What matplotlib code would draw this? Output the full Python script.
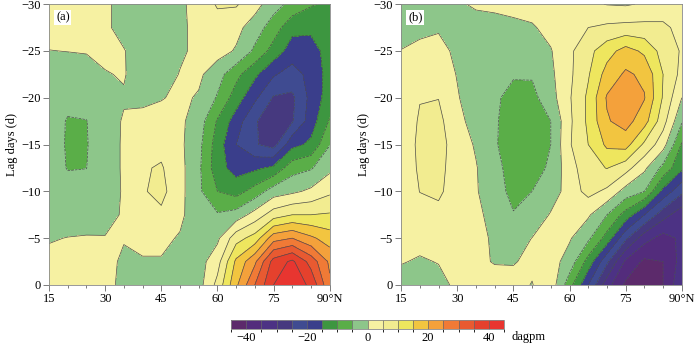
import numpy as np
import matplotlib.pyplot as plt
from matplotlib.colors import ListedColormap, BoundaryNorm
from matplotlib.ticker import MultipleLocator

plt.rcParams['font.family'] = ['Liberation Serif', 'DejaVu Serif']

# grid: latitude (deg N) and lag (days)
lat = [15, 20, 25, 30, 35, 40, 45, 50, 55, 60, 65, 70, 75, 80, 85, 90]
lag = [-30, -27.5, -25, -22.5, -20, -17.5, -15, -12.5, -10, -7.5, -5, -2.5, 0]

# panel (a), one row per lag, dagpm
field_a = [
    [2, 2, 2, 1, -2, -3, -2.5, -1, 2, 5.5, 5.5, 2, -3, -6.5, -9.5, -11],
    [2, 2, 1.5, 1, -2, -3, -2.5, -1, 1.5, 3, 1.5, -2.5, -7.5, -13.5, -14, -12],
    [-0.1, 0.1, 0.3, 1.2, 0.3, -3, -3, -1, 1.5, 2, -0.5, -6, -12, -17.5, -17, -13],
    [-2, -2.5, -2, -0.3, 0.4, -3, -3, 0.3, 1, -3, -8.5, -14, -19.5, -22, -18.5, -13],
    [-2.5, -3.8, -3.5, -2, -0.5, -1.5, -0.3, 1, -0.5, -5.5, -12.5, -19, -25.5, -26, -18.5, -12.5],
    [-3, -5.3, -5.1, -2.5, 0.5, 2, 2, 1, -2.5, -10.5, -17.5, -24.5, -28, -25.5, -17.5, -9.5],
    [-3, -5.4, -5.3, -2, 0.5, 3, 3.5, 1, -3.5, -12.5, -20, -24.5, -27, -16.5, -14, -5.2],
    [-3, -5.2, -5.05, -2, 0.5, 4.5, 5.5, 1.5, -4, -13, -17, -16, -14, -7, -5.5, -1.2],
    [-3, -3.5, -3.5, -2.5, 0.5, 4.5, 6.5, 1.5, -4, -10, -12, -8, -2.5, -1, 1, 4],
    [-2, -2, -2, -1.5, 0.5, 3, 4, 1, -3, -4.5, -3, 2, 7.5, 10, 10, 10.5],
    [-0.3, 0.1, 0.3, 0.2, 0.3, 1, 1, -0.4, -2.5, -1, 8, 12, 23, 25, 21, 17.5],
    [1, 1.5, 1.5, 1.5, -0.8, -0.3, -0.3, -1.5, -2, 3, 16, 24, 37, 41, 33, 24],
    [1, 1.5, 1.5, 1.2, -1, -1.5, -1.5, -2, -2, 6.5, 19, 30, 40, 43, 39, 26],
]

# panel (b)
field_b = [
    [-2, -2.5, -2.5, -1, 1, 1.5, 2, 2, 2, 1.5, 1, -0.2, -0.5, 0.5, 2, 2],
    [-1.5, -1, -0.5, -1.5, -3, -2.5, -1.5, -0.5, 1.5, 3, 5, 6, 6.5, 6.5, 6, 3.5],
    [0.1, 1, 1.5, -1, -3.5, -3.5, -3.5, -2.5, -0.3, 4, 8.5, 13, 17, 14, 8, 4.5],
    [1, 3, 3.5, -0.3, -3.5, -4, -4.7, -4.5, -1, 4, 9.5, 17, 20.8, 19, 10, 3.5],
    [2, 4.8, 4.9, 0.5, -3.5, -4.5, -6, -6.5, -2, 4.5, 11, 20.5, 24, 20.3, 9.5, 0],
    [2, 5.5, 6.3, 1.5, -2, -4.5, -7, -7.5, -5, 4, 11, 19.5, 22, 17, 7, -4.5],
    [2, 6, 7, 2.5, -0.5, -4.5, -7.5, -8, -5, 4.5, 10, 16, 17, 9, 2, -10.5],
    [1.5, 5.8, 6.5, 2.5, 0.3, -3.5, -7, -7.5, -4, 3, 8, 10.2, 7, 1, -6.5, -14],
    [1.2, 5.1, 6, 2.2, 0.5, -3.5, -6, -5, -3, 2.5, 6.5, 4, -2, -5, -16.5, -24],
    [1, 3, 3.5, 2, 1, -1.5, -4.8, -4, 0.5, 2.5, 0.7, -5, -12, -20, -28, -33],
    [1, 1.5, 1.5, 1.5, 1, -0.5, -2.5, 0.1, 1.5, 0.5, -4, -12, -24, -33, -37, -34],
    [0.3, -0.5, 0.2, 1, 1, -0.3, -0.3, 1, 2, -2, -12, -24, -36, -41, -40, -33],
    [-2, -2.5, -1.5, 1, 2, 2, 1.5, -0.2, 3, -8, -20, -33, -41, -43, -40, -31],
]

cbar_ticks = [-40, -20, 0, 20, 40]
xtick_vals = [15, 30, 45, 60, 75, 90]
xtick_labels = ['15', '30', '45', '60', '75', '90°N']
ytick_vals = [-30, -25, -20, -15, -10, -5, 0]

levels = np.arange(-45, 50, 5)
colors = ['#5c2a6b', '#532c7c', '#4c3284', '#46397f', '#3f4b91', '#3a3e8b',
          '#3d9640', '#5aae48', '#8dc68a',
          '#f6f1a2', '#f2ec90', '#eee65e', '#f2c540', '#f4a13b',
          '#f07a36', '#e85a31', '#e5412d', '#e83530']
cmap = ListedColormap(colors)
norm = BoundaryNorm(levels, cmap.N)


def minus(v):
    return f'\u2212{abs(v)}' if v < 0 else str(v)


def draw_panel(ax, field, label):
    z = np.array(field)
    cf = ax.contourf(lat, lag, z, levels=levels, cmap=cmap, norm=norm)
    ax.contour(lat, lag, z, levels=levels, colors='#4d4d4d', linewidths=0.5)
    ax.set_xlim(15, 90)
    ax.set_ylim(0, -30)
    ax.set_xticks(xtick_vals)
    ax.set_xticklabels(xtick_labels)
    ax.xaxis.set_minor_locator(MultipleLocator(5))
    ax.set_yticks(ytick_vals)
    ax.set_yticklabels([minus(v) for v in ytick_vals])
    ax.tick_params(which='major', direction='out', length=4, width=0.6,
                   color='#666666', labelsize=9, pad=2)
    ax.tick_params(which='minor', direction='out', length=2.5, width=0.6,
                   color='#666666')
    for s in ax.spines.values():
        s.set_color('#888888')
        s.set_linewidth(0.6)
    ax.set_ylabel('Lag days (d)', fontsize=9, labelpad=2)
    ax.text(0.025, 0.975, label, transform=ax.transAxes, fontsize=9,
            va='top', ha='left',
            bbox=dict(facecolor='white', edgecolor='none', pad=1.2))
    return cf


fig = plt.figure(figsize=(7, 3.45), dpi=100)
ax1 = fig.add_axes([0.070, 0.174, 0.401, 0.814])
ax2 = fig.add_axes([0.573, 0.174, 0.401, 0.814])
cax = fig.add_axes([0.33, 0.046, 0.39, 0.026])

cf = draw_panel(ax1, field_a, '(a)')
draw_panel(ax2, field_b, '(b)')

cb = fig.colorbar(cf, cax=cax, orientation='horizontal', ticks=cbar_ticks,
                  drawedges=True)
cb.ax.set_xticklabels([minus(v) for v in cbar_ticks])
cb.ax.tick_params(length=0, labelsize=9, pad=2)
cb.outline.set_edgecolor('#888888')
cb.outline.set_linewidth(0.6)
cb.dividers.set_color('#666666')
cb.dividers.set_linewidth(0.5)
fig.text(0.73, 0.005, 'dagpm', fontsize=9, va='bottom', ha='left')

fig.savefig('out.png', dpi=100)
